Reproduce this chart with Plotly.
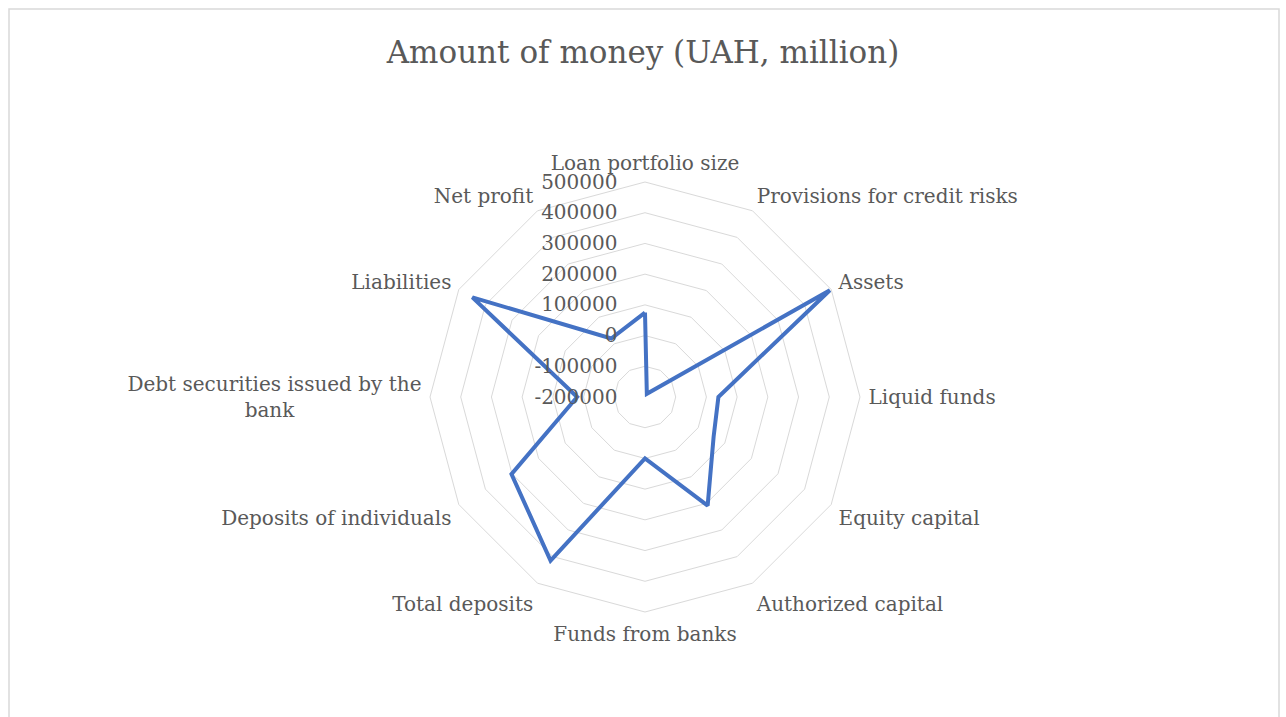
import plotly.graph_objects as go

# Balance-sheet indicators shown around the radar, clockwise from the top
categories = [
    "Loan portfolio size",
    "Provisions for credit risks",
    "Assets",
    "Liquid funds",
    "Equity capital",
    "Authorized capital",
    "Funds from banks",
    "Total deposits",
    "Deposits of individuals",
    "Debt securities issued by the<br>bank" + "\u00a0" * 20,
    "Liabilities",
    "Net profit",
]

# Amounts, UAH million
amounts = [75000, -188000, 495000, 39000, 58000, 208000,
           0, 415000, 302000, 21000, 449000, 20000]

radial_ticks = [-200000, -100000, 0, 100000, 200000, 300000, 400000, 500000]

TEXT = "#595959"
GRID = "#d9d9d9"
FONT = "DejaVu Serif"

W, H = 1286, 717
cx, cy, R = 645, 397, 215  # plot centre and outer radius in pixels

fig = go.Figure()
fig.add_trace(go.Scatterpolar(
    r=amounts + amounts[:1],
    theta=categories + categories[:1],
    mode="lines",
    line=dict(color="#4472C4", width=4),
    showlegend=False,
    hoverinfo="skip",
))

fig.update_layout(
    width=W, height=H,
    margin=dict(l=0, r=0, t=0, b=0),
    paper_bgcolor="white",
    plot_bgcolor="white",
    title=dict(text="Amount of money (UAH, million)", x=0.5, xanchor="center",
               y=1 - 52 / H, yanchor="middle",
               font=dict(family=FONT, size=31, color=TEXT)),
    polar=dict(
        domain=dict(x=[(cx - R) / W, (cx + R) / W],
                    y=[(H - cy - R) / H, (H - cy + R) / H]),
        bgcolor="white",
        gridshape="linear",
        angularaxis=dict(
            rotation=90, direction="clockwise",
            showgrid=False, showline=True, linecolor=GRID, linewidth=1,
            # invisible ticks only add a little gap before the labels
            ticks="outside", ticklen=4, tickcolor="rgba(0,0,0,0)",
            tickfont=dict(family=FONT, size=20, color=TEXT),
        ),
        radialaxis=dict(
            range=[-200000, 500000], tickvals=radial_ticks,
            ticktext=[str(v) for v in radial_ticks],
            angle=90, side="counterclockwise", tickangle=90,
            showline=False,
            ticks="outside", ticklen=20, tickcolor="rgba(0,0,0,0)",
            gridcolor=GRID, gridwidth=1,
            tickfont=dict(family=FONT, size=20, color=TEXT),
        ),
    ),
    shapes=[dict(type="rect", xref="paper", yref="paper",
                 x0=9 / W, x1=1279 / W, y0=-0.05, y1=1 - 9 / H,
                 line=dict(color=GRID, width=1.5), layer="below")],
)

fig.write_html("out.html")
